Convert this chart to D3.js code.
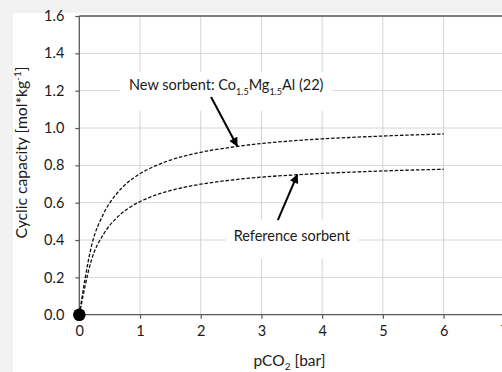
<!DOCTYPE html>
<html>
<head>
<meta charset="utf-8">
<script src="https://cdn.jsdelivr.net/npm/d3@7"></script>
<style>
  body { margin: 0; background: #f2f2f2; }
  svg { display: block; }
  text { font-family: Lato, "Open Sans", sans-serif; fill: #1a1a1a; }
</style>
</head>
<body>
<div id="container-chart"></div>
<script>

// pCO2 [bar] and cyclic capacity [mol/kg]
var pressure   = [0, 0.2, 0.4, 0.6, 0.8, 1, 1.25, 1.5, 2, 2.5, 3, 3.5, 4, 4.5, 5, 5.5, 6];
var newSorbent = [0, 0.367, 0.541, 0.642, 0.709, 0.755, 0.797, 0.828, 0.870, 0.897, 0.917, 0.931, 0.942, 0.950, 0.957, 0.963, 0.968];
var refSorbent = [0, 0.293, 0.432, 0.514, 0.568, 0.606, 0.640, 0.665, 0.699, 0.721, 0.737, 0.748, 0.757, 0.764, 0.770, 0.775, 0.779];

var xTicks = [0, 1, 2, 3, 4, 5, 6, 7];
var yTicks = [0, 0.2, 0.4, 0.6, 0.8, 1.0, 1.2, 1.4, 1.6];

var width = 502, height = 372;
var plotLeft = 79.3, plotRight = 504.3, plotTop = 16, plotBottom = 314.7;

var svg = d3.select('#container-chart')
            .append("svg")
            .attr("width", width)
            .attr("height", height);

svg.append("rect")
  .attr("x", 13)
  .attr("y", 13)
  .attr("width", width - 13)
  .attr("height", height - 13)
  .style("fill", "#fff");

var x = d3.scaleLinear().domain([0, 7]).range([plotLeft, plotRight]);
var y = d3.scaleLinear().domain([0, 1.6]).range([plotBottom, plotTop]);

// gridlines
svg.append("g")
  .selectAll("line")
  .data(xTicks.slice(1))
  .enter()
  .append("line")
  .attr("x1", function(d){ return x(d); })
  .attr("x2", function(d){ return x(d); })
  .attr("y1", plotTop)
  .attr("y2", plotBottom)
  .style("stroke", "#d4d4d4")
  .style("stroke-width", 1);

svg.append("g")
  .selectAll("line")
  .data(yTicks.slice(1))
  .enter()
  .append("line")
  .attr("x1", plotLeft)
  .attr("x2", plotRight)
  .attr("y1", function(d){ return y(d); })
  .attr("y2", function(d){ return y(d); })
  .style("stroke", "#d4d4d4")
  .style("stroke-width", 1);

// axes
var xAxis = d3.axisBottom(x)
  .tickValues(xTicks)
  .tickSize(4)
  .tickPadding(7)
  .tickFormat(d3.format("d"));

var yAxis = d3.axisLeft(y)
  .tickValues(yTicks)
  .tickSize(4)
  .tickPadding(11)
  .tickFormat(d3.format(".1f"));

var gx = svg.append("g")
  .attr("transform", "translate(0," + plotBottom + ")")
  .call(xAxis);

var gy = svg.append("g")
  .attr("transform", "translate(" + plotLeft + ",0)")
  .call(yAxis);

[gx, gy].forEach(function(g){
  g.select(".domain").remove();
  g.selectAll(".tick line").style("stroke", "#595959").style("stroke-width", 1.2);
  g.selectAll(".tick text")
    .style("font-size", "14.5px")
    .style("font-family", "Lato, sans-serif")
    .style("fill", "#1a1a1a");
});

// frame lines: left, bottom, top
svg.append("line")
  .attr("x1", plotLeft).attr("x2", plotLeft)
  .attr("y1", plotTop).attr("y2", plotBottom)
  .style("stroke", "#595959").style("stroke-width", 1.3);
svg.append("line")
  .attr("x1", plotLeft).attr("x2", plotRight)
  .attr("y1", plotBottom).attr("y2", plotBottom)
  .style("stroke", "#595959").style("stroke-width", 1.3);
svg.append("line")
  .attr("x1", plotLeft).attr("x2", plotRight)
  .attr("y1", plotTop).attr("y2", plotTop)
  .style("stroke", "#595959").style("stroke-width", 1.3);

// curves
var line = d3.line()
  .x(function(d){ return x(d[0]); })
  .y(function(d){ return y(d[1]); })
  .curve(d3.curveMonotoneX);

[newSorbent, refSorbent].forEach(function(series){
  svg.append("path")
    .datum(d3.zip(pressure, series))
    .attr("d", line)
    .style("fill", "none")
    .style("stroke", "#111")
    .style("stroke-width", 1.3)
    .style("stroke-dasharray", "3.5,1.8");
});

svg.append("circle")
  .attr("cx", x(0))
  .attr("cy", y(0))
  .attr("r", 6.3)
  .style("fill", "#000");

// labels with white boxes
function label(cx, cy, padX, padTop, padBottom, build){
  var g = svg.append("g");
  var box = g.append("rect").style("fill", "#fff");
  var t = g.append("text")
    .attr("x", x(cx))
    .attr("y", y(cy))
    .attr("text-anchor", "middle")
    .style("font-size", "14.5px");
  build(t);
  var b = t.node().getBBox();
  box.attr("x", b.x - padX)
     .attr("y", b.y - padTop)
     .attr("width", b.width + 2 * padX)
     .attr("height", b.height + padTop + padBottom);
  return g;
}

label(2.42, 1.205, 9, 4, 14, function(t){
  t.append("tspan").text("New sorbent: Co");
  t.append("tspan").text("1.5").attr("dy", 5).style("font-size", "9px");
  t.append("tspan").text("Mg").attr("dy", -5);
  t.append("tspan").text("1.5").attr("dy", 5).style("font-size", "9px");
  t.append("tspan").text("Al (22)").attr("dy", -5);
});

label(3.5, 0.397, 8, 7, 15, function(t){
  t.append("tspan").text("Reference sorbent");
});

// arrows
svg.append("defs")
  .append("marker")
  .attr("id", "head")
  .attr("markerUnits", "userSpaceOnUse")
  .attr("viewBox", "0 0 10 10")
  .attr("refX", 9)
  .attr("refY", 5)
  .attr("markerWidth", 10)
  .attr("markerHeight", 9)
  .attr("orient", "auto")
  .append("path")
  .attr("d", "M0,0 L10,5 L0,10 Z")
  .style("fill", "#000");

var arrows = [
  [2.17, 1.166, 2.60, 0.904],
  [3.27, 0.507, 3.59, 0.749]
];

svg.selectAll(".arrow")
  .data(arrows)
  .enter()
  .append("line")
  .attr("class", "arrow")
  .attr("x1", function(d){ return x(d[0]); })
  .attr("y1", function(d){ return y(d[1]); })
  .attr("x2", function(d){ return x(d[2]); })
  .attr("y2", function(d){ return y(d[3]); })
  .attr("marker-end", "url(#head)")
  .style("stroke", "#000")
  .style("stroke-width", 2);

// axis titles
var xt = svg.append("text")
  .attr("x", 289.5)
  .attr("y", 366)
  .attr("text-anchor", "middle")
  .style("font-size", "15.5px");
xt.append("tspan").text("pCO");
xt.append("tspan").text("2").attr("dy", 4).style("font-size", "10px");
xt.append("tspan").text(" [bar]").attr("dy", -4);

var yt = svg.append("text")
  .attr("transform", "translate(27,152.5) rotate(-90)")
  .attr("text-anchor", "middle")
  .style("font-size", "15.7px");
yt.append("tspan").text("Cyclic capacity [mol*kg");
yt.append("tspan").text("-1").attr("dy", -6).style("font-size", "10px");
yt.append("tspan").text("]").attr("dy", 6);

</script>
</body>
</html>
